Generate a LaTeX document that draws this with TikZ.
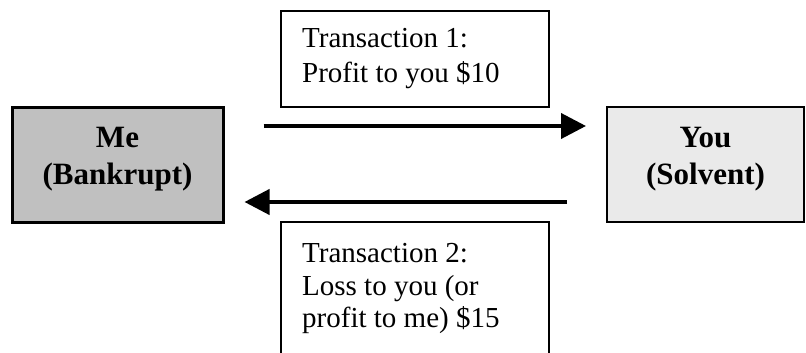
\documentclass[tikz,border=0pt]{standalone}
\usepackage{fontspec}
\setmainfont{Liberation Serif}
\usetikzlibrary{arrows.meta}
\begin{document}
\begin{tikzpicture}[x=1pt,y=-1pt,
  party/.style={draw=black, rectangle, inner sep=0pt},
  txbox/.style={draw=black, line width=1.6pt, rectangle, inner sep=0pt},
  bold/.style={anchor=base, inner sep=0pt, font=\fontsize{31}{37}\selectfont\bfseries},
  plain/.style={anchor=base west, inner sep=0pt, font=\fontsize{29}{33}\selectfont},
  arr/.style={line width=4pt, -{Triangle[length=25pt,width=25pt]}}]
\clip (0,0) rectangle (806,353);
\fill[white] (0,0) rectangle (806,353);
% parties
\node[party, line width=3pt, fill={rgb,255:red,192;green,192;blue,192},
      minimum width=211pt, minimum height=115pt] (me) at (117.5,164.5) {};
\node[party, line width=2pt, fill={rgb,255:red,234;green,234;blue,234},
      minimum width=197pt, minimum height=115pt] (you) at (705.5,164.5) {};
\node[bold] (me1) at (117.5,147) {Me};
\node[bold] (me2) at (117.5,184) {(Bankrupt)};
\node[bold] (you1) at (705.5,147) {You};
\node[bold] (you2) at (705.5,184) {(Solvent)};
% transaction boxes
\node[txbox, minimum width=268pt, minimum height=96pt] (t1) at (415,59) {};
\node[plain] (t1a) at (302,48) {Transaction 1:};
\node[plain] (t1b) at (302,82) {Profit to you \$10};
\node[txbox, minimum width=268pt, minimum height=160pt] (t2) at (415,302) {};
\node[plain] (t2a) at (302,262) {Transaction 2:};
\node[plain] (t2b) at (302,295) {Loss to you (or};
\node[plain] (t2c) at (302,327) {profit to me) \$15};
% arrows
\draw[arr, shorten <=39pt, shorten >=20pt] (me.east |- 0,126) -- (you.west |- 0,126);
\draw[arr, shorten <=39pt, shorten >=20pt] (you.west |- 0,202) -- (me.east |- 0,202);
\end{tikzpicture}
\end{document}
